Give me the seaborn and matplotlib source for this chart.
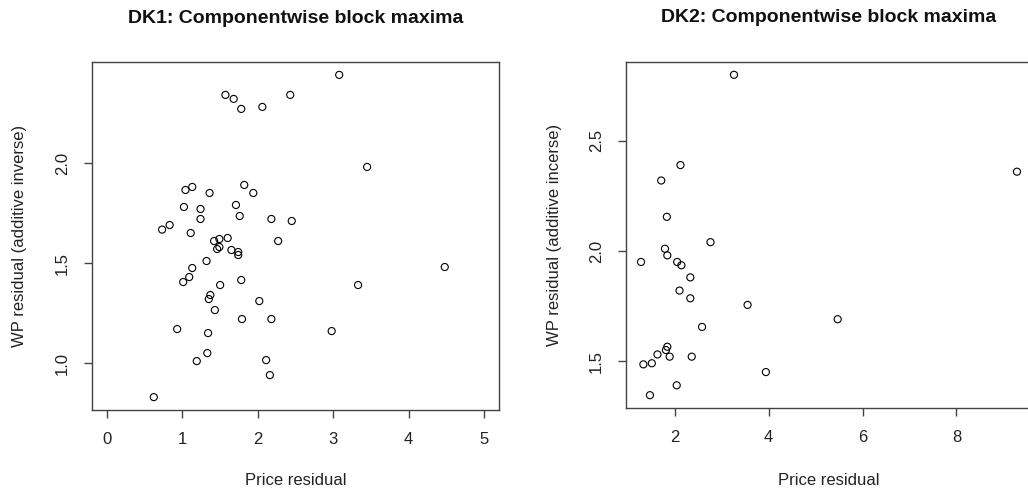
import matplotlib
matplotlib.use("Agg")
import matplotlib.pyplot as plt
import seaborn as sns
import pandas as pd

# DK1: componentwise block maxima of price residual vs. WP residual
dk1_price = [1.57, 1.68, 1.78, 2.06, 2.43, 1.82, 1.94, 1.13, 1.04, 1.36,
             1.02, 1.24, 1.24, 1.71, 1.76, 2.18, 2.45, 0.73, 0.83, 1.11,
             1.42, 1.49, 1.60, 1.46, 1.49, 1.65, 1.74, 1.74, 2.27, 1.32,
             1.13, 1.09, 1.01, 1.50, 1.78, 1.37, 1.35, 2.02, 1.43, 1.79,
             2.18, 0.93, 1.34, 1.33, 1.19, 2.11, 2.16, 0.62, 3.08, 3.45,
             3.33, 2.98, 4.48]
dk1_wp = [2.34, 2.32, 2.27, 2.28, 2.34, 1.89, 1.85, 1.88, 1.865, 1.85,
          1.78, 1.77, 1.72, 1.79, 1.735, 1.72, 1.71, 1.667, 1.69, 1.65,
          1.61, 1.62, 1.625, 1.57, 1.58, 1.565, 1.555, 1.54, 1.61, 1.51,
          1.475, 1.43, 1.405, 1.39, 1.415, 1.34, 1.32, 1.31, 1.265, 1.22,
          1.22, 1.17, 1.15, 1.05, 1.01, 1.015, 0.94, 0.83, 2.44, 1.98,
          1.39, 1.16, 1.48]

# DK2: componentwise block maxima of price residual vs. WP residual
dk2_price = [3.26, 2.12, 1.71, 1.83, 2.76, 1.79, 1.84, 1.28, 2.05, 2.14,
             2.33, 2.10, 2.33, 3.55, 2.58, 1.84, 1.81, 1.63, 1.89, 2.36,
             1.33, 1.51, 3.94, 2.04, 1.47, 9.29, 5.47]
dk2_wp = [2.80, 2.39, 2.32, 2.155, 2.04, 2.01, 1.98, 1.95, 1.95, 1.935,
          1.88, 1.82, 1.785, 1.755, 1.655, 1.565, 1.55, 1.53, 1.52, 1.52,
          1.485, 1.49, 1.45, 1.39, 1.345, 2.36, 1.69]

dk1_xticks = [0, 1, 2, 3, 4, 5]
dk1_yticks = [1.0, 1.5, 2.0]
dk2_xticks = [2, 4, 6, 8]
dk2_yticks = [1.5, 2.0, 2.5]

titles = ["DK1: Componentwise block maxima", "DK2: Componentwise block maxima"]
xlabel = "Price residual"
ylabels = ["WP residual (additive inverse)", "WP residual (additive incerse)"]

sns.set_style("white")
plt.rcParams["font.family"] = ["Liberation Sans", "DejaVu Sans"]

fig = plt.figure(figsize=(10.28, 4.9), dpi=100)
W, H = 1028, 490


def px_axes(left, top, right, bottom):
    return fig.add_axes([left / W, (H - bottom) / H, (right - left) / W, (bottom - top) / H])


def r_limits(vals, pad=0.04):
    lo, hi = min(vals), max(vals)
    r = hi - lo
    return lo - pad * r, hi + pad * r


panels = [
    (px_axes(92, 62, 499, 410), dk1_price, dk1_wp, dk1_xticks, dk1_yticks, (0, 5)),
    (px_axes(626, 62, 1032, 408), dk2_price, dk2_wp, dk2_xticks, dk2_yticks, None),
]

for i, (ax, xs, ys, xt, yt, xrange_) in enumerate(panels):
    df = pd.DataFrame({"price": xs, "wp": ys})
    sns.scatterplot(data=df, x="price", y="wp", ax=ax, marker="o", s=26,
                    facecolor="none", edgecolor="black", linewidth=0.8)
    if xrange_ is None:
        ax.set_xlim(*r_limits(xs))
    else:
        ax.set_xlim(*r_limits(xrange_))
    ax.set_ylim(*r_limits(ys))
    ax.set_xticks(xt)
    ax.set_xticklabels([f"{v:g}" for v in xt])
    ax.set_yticks(yt)
    ax.set_yticklabels([f"{v:.1f}" for v in yt], rotation=90, va="center")
    ax.tick_params(axis="both", direction="out", length=6, width=1,
                   color="#444444", labelsize=12, pad=10, labelcolor="#222222")
    ax.tick_params(left=True, bottom=True)
    for sp in ax.spines.values():
        sp.set_visible(True)
        sp.set_color("#444444")
        sp.set_linewidth(1.0)
    ax.set_xlabel(xlabel, fontsize=12, color="#222222")
    ax.set_ylabel(ylabels[i], fontsize=12, color="#222222")
    box_h = 348 if i == 0 else 346
    box_w = 407 if i == 0 else 406
    ax.xaxis.set_label_coords(0.5, -(480 - (410 if i == 0 else 408)) / box_h)
    ax.xaxis.label.set_va("center")
    ax.yaxis.set_label_coords(-72 / box_w, 0.5)
    ax.yaxis.label.set_va("center")
    ax.text(0.5, 1 + (62 - 18) / box_h, titles[i], transform=ax.transAxes,
            ha="center", va="center", fontsize=14, fontweight="bold", color="#111111")

fig.savefig("out.png", dpi=100)
